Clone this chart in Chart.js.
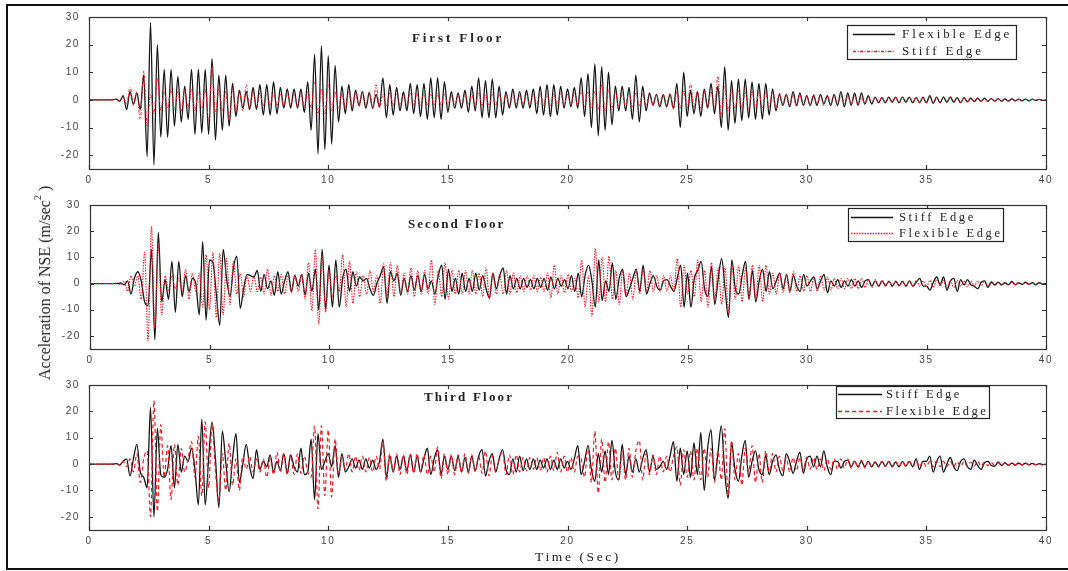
<!DOCTYPE html>
<html><head><meta charset="utf-8">
<script src="https://cdn.jsdelivr.net/npm/chart.js@4.4.1/dist/chart.umd.min.js"></script>
<style>
html,body{margin:0;padding:0;background:#fff;}
#wrap{position:relative;width:1068px;height:571px;overflow:hidden;background:#fff;}
canvas{position:absolute;left:0;}
#frame{position:absolute;left:6px;top:4px;width:1090px;height:566px;border:2px solid #111;box-sizing:border-box;}
.ttl{position:absolute;font-family:'Liberation Serif','Times New Roman',serif;font-weight:bold;font-size:13px;color:#222;white-space:nowrap;line-height:13px;}
#ylab{position:absolute;left:45px;top:283px;font-family:'Liberation Serif','Times New Roman',serif;font-size:16px;color:#222;white-space:nowrap;line-height:16px;transform:translate(-50%,-50%) rotate(-90deg);}
#ylab sup{font-size:10px;vertical-align:9px;line-height:0;}
#xlab{position:absolute;left:578px;top:557px;font-family:'Liberation Serif','Times New Roman',serif;font-size:13.5px;letter-spacing:2.6px;color:#222;white-space:nowrap;line-height:14px;transform:translate(-50%,-50%);}
</style>
</head><body>
<div id="wrap">
<canvas id="c1" width="1068" height="190" style="top:0px"></canvas>
<canvas id="c2" width="1068" height="180" style="top:190px"></canvas>
<canvas id="c3" width="1068" height="201" style="top:370px"></canvas>
<div class="ttl" style="left:412px;top:31px;letter-spacing:2.9px">First Floor</div>
<div class="ttl" style="left:408px;top:217px;letter-spacing:2px">Second Floor</div>
<div class="ttl" style="left:424px;top:390px;letter-spacing:2.2px">Third Floor</div>
<div id="ylab">Acceleration of NSE (m/sec<sup>2</sup> )</div>
<div id="xlab">Time (Sec)</div>
<div id="frame"></div>
</div>
<script>
// sampling step of the read values (seconds): 7 values per second, one line = one second
const timeStep = 1/7;
const xTicks = [0,5,10,15,20,25,30,35,40];
const yTicks = [30,20,10,0,-10,-20];

// First floor
const floor1Flexible = [
0,0,0,0,0,0,0,
0,0.3,-0.5,1.5,-3.5,3,-1.5,
2.5,-3.5,9,-20.5,28,-23.5,20,
-13.5,11,-13.5,11,-9.5,8.5,-8,
5,-7,11,-12.5,11,-12,11,
-12.5,15,-14.5,9,-11,9,-9.5,
6,-6,3.5,-3,3,-3.5,4.5,
-3.5,5.5,-5.5,5.5,-5.5,6.5,-5,
4.5,-3,4,-3,4,-3,4,
-4.5,6.5,-11,16.5,-19.5,19.5,-18,
16,-16,12.5,-8,5,-5,5.5,
-4,3.5,-2,3,-3,2.5,-3,
2,-2.5,8,-6.5,5.5,-5.5,4.5,
-4,3,-4,6,-5,5.5,-6,
6,-7,8,-6.5,8,-7,6.5,
-4.5,3,-3,2.5,-3,3.5,-4.5,
5,-4,8,-6.5,7,-6.5,7.5,
-6.5,5,-5.5,3,-3,4,-3,
3,-3,3.5,-3,4,-5,5,
-5.5,5.5,-6,5.5,-5.5,5,-3,
4,-2.5,4.5,-3,8,-6,9.5,
-10,13,-13,12,-11,10,-9,
5,-4,5,-4,4.5,-7,9,
-8,5,-4,2.5,-2,2,-2.5,
2,-2.5,2,-3,6,-10,10,
-6,3.5,-5,3,-6,4,-3,
6,-5,5,-10,12,-11,7,
-8.5,7.5,-7.5,7.5,-6.5,6.5,-7,
6,-7,6,-5.5,4,-4,2,
-2,2,-2.5,3,-2,2.5,-2,
1.5,-2,1.5,-2,2,-1.5,1.5,
-2,2,-2,3,-2.5,2.5,-2,
2.5,-2,2.5,-1.5,1.5,-1.5,1,
-1,0.8,-1,1,-0.8,1,-1,
1,-0.8,1,-1,0.8,-1,1,
-1,1.5,-1.2,1,-1,1,-0.8,
1,-0.8,0.8,-1,0.8,-0.6,0.6,
-0.6,0.6,-0.5,0.6,-0.5,0.5,-0.5,
0.5,-0.5,0.4,-0.4,0.4,-0.3,0.3,
-0.3,0.3,-0.3,0.3,-0.2,0.2,-0.2,
0];
const floor1Stiff = [
0,0,0,0,0,0,0,
0,0.3,-0.3,1,-1.5,4.5,-2,
3,-7,10.5,-9.5,2,-5,8,
-4,3,-3,4,-3.5,3,-4,
3.5,-3,4,-4,3,-3,4,
-8,12.5,-5,4,-4,3,-7.5,
4,-4,3.5,-4,5.5,-3,3,
-2.5,2.5,-2,2.5,-2,2.5,-2,
2,-2,2.5,-2,2,-2.5,2,
-2.5,3,-3,6.5,-5,4,-5,
5.5,-4,3,-3,2.5,-3,3,
-3,2.5,-2.5,3,-2,3,-3,
5.5,-3,2,-2,2.5,-2,2,
-2,2,-2,2.5,-2,2,-2,
2.5,-2,2,-2,2.5,-2,2,
-1.5,1.5,-2,1.5,-1.5,2,-1.5,
2,-2,2.5,-2,2,-2,2,
-2,2,-1.5,2,-2,1.5,-1.5,
1.5,-1.5,2,-2,2,-1.5,2,
-2,2,-2,2,-2,2.5,-2,
2,-2,2.5,-2,3.5,-2.5,3,
-3,3,-3.5,5.5,-4,3.5,-3,
3,-2.5,2.5,-2.5,3,-2.5,2.5,
-2,2,-2,2,-2,2,-2,
2,-2,2.5,-3.5,3,-3,3.5,
-3,6,-3,3,-3,3.5,-3,
3,-3,8.5,-6,5,-4,3.5,
-3,3.5,-3,3,-3.5,3,-3,
3,-3,3,-2.5,3,-3,2.5,
-2,2,-2,2,-2.5,2,-2,
1.5,-2,2,-1.5,1.5,-2,1.5,
-1.5,1.5,-1.5,1.5,-1.5,1.5,-1.5,
1.5,-1.5,1,-1.5,1,-1,1,
-1,1,-0.8,1,-1,0.8,-1,
1,-1,1,-0.8,1,-1,0.8,
-1,1.2,-1,1,-1,1.2,-1,
1.2,-1,1,-1,0.8,-1,0.8,
-0.8,0.8,-0.6,0.6,-0.6,0.5,-0.5,
0.5,-0.5,0.4,-0.4,0.4,-0.4,0.3,
-0.3,0.3,-0.3,0.2,-0.2,0.2,-0.2,
0];

// Second floor
const floor2Stiff = [
0,0,0,0,0,0,0,
0,0,0.2,-0.5,1,-4,2,
4.5,1,-7,-8.5,13,-21.5,19.5,
-7,1.5,-6,8.5,-11,8.5,-5,
3,-3,2,0,-12,16,-14,
9,8,-4,-16,13,2,-5,
6,10.5,-9.5,-2,3.5,3,2.5,
5,-3,3.5,-2,1,-4.5,4.5,
-4,1,4.5,-3,3,-1,3.5,
-4.5,4,-3,5.5,-10,13,-10,
7,-9,9,-9,2,5.5,-3,
4.5,-1,2.5,1,2,-2,-4.5,
0,3,6.5,-7.5,4.5,1,4,
-4.5,2,-3,3,-2.5,3,-3,
3.5,-2,1,-4,3,7,-6,
5.5,-3,2,-4,4,-3,2,
-3,4,-2.5,3,-2,-5.5,4,
-2,3,6,-4,3,-2,2,
-2,2,-1.5,1.5,-2,2,-1.5,
2,-2.5,2.5,-2,2,-1,1.5,
-2,3,-3,4,-5,3,7,
1,-9,9,-6.5,1,-3,8,
-6,2,5.5,-5,-2,2,5.5,
-3,7,-4,0,3,-1,-2.5,
1,1.5,-1,-3,2,7,-9,
4,-9,2,5,8.5,-2,-5,
6.5,-8,2,9.5,-2,-13,9,
-2,-4,3,8.5,-6,5,-7,
1,5.5,-3,4.5,-2,1,4,
-2,3.5,-3,3,-1,-3,3.5,
-1,1,2.5,-2,1,3.5,-3.5,
1,-1,1.5,-1.5,1,-1,1.5,
-1,1,-1.5,1,1.5,-1,1,
-1,1,-0.8,0.8,-1,0.8,-0.8,
0.8,-1,1,-1,0.5,2,-1,
-1,-2.5,0.5,2.5,-0.5,2.5,-2.5,
1,2,-3,1.5,-0.5,1.5,-0.5,
-1,-2,0.5,1,-1.5,0.5,-0.5,
0.5,-0.5,0.3,-0.5,0.8,-0.5,0.3,
-0.3,0.5,-0.3,0.3,-0.5,0.3,-0.2,
0];
const floor2Flexible = [
0,0,0,0,0,0,0,
0,0.3,-0.5,1,-3,3,-1,
3,-6,12,-22,22,-17,15,
-12,3,-2.5,3,-2,2,-3,
5.5,-6,4,-3,4,-9,11,
-10,12,-13,11.5,-12,9.5,-8,
8.5,-4,4,-5,3,-3,3,
-3,2.5,-4,5.5,-4.5,3,-3,
3.5,-4,3,-3.5,3.5,-3,3.5,
-6,8,-10.5,13,-15.5,11,-11,
5,-5,3,-3,11,-9,8.5,
-7.5,4.5,-5,3,-4,5,-3,
3,-7.5,7.5,-5,8,-5,7,
-4,4,-4,6,-5,5,-4,
5,-4,9,-8,5,-5,8,
-6,5,-4,5,-4,5,-4,
5,-4,4,-5,6,-6,4,
-4,3.5,-4,5,-4,4,-3.5,
3,-3,3,-2.5,3,-3,2.5,
-3,4,-5.5,7,-4,3,-3.5,
3.5,-3,2,-5.5,9,-9,3,
-12.5,13.5,-7,10,-7,10.5,-6,
5,-8,5,-5,4,-6,5,
-4,5.5,-3,5,-3,3,-3,
3,-3,3,-3,9.5,-9,7,
-4,5,-5,9,-7,5,-9,
8,-6,6,-8,6,-11,7,
-6,7,-7,6,-6,7,-6,
7,-7,7,-4,4,-4,4,
-3.5,3.5,-3.5,4.5,-3,3,-3,
3,-3,2.5,-3,3,-2.5,2.5,
-2.5,2,-2,2,-2,2,-2,
2,-2,2,-1.5,1.5,-1.5,1.5,
-1.2,1.2,-1.2,1,-1.2,1,-1,
1,-1.2,1,-1,1.2,-1,1,
-1.2,1.2,-1.5,1.5,-1,1.2,-1.5,
1.2,-1.5,1.2,-1,1,-1.2,1,
-1,1,-0.8,1,-0.8,0.8,-0.6,
0.5,-0.6,0.5,-0.5,0.4,-0.4,0.4,
-0.3,0.3,-0.3,0.3,-0.2,0.2,-0.2,
0];

// Third floor
const floor3Stiff = [
0,0,0,0,0,0,0,
0,0.2,-0.3,1,2,-4.5,2,
7.5,-3,-5,-9,21.5,-20,13.5,
-4,-5,-2,7,-9,7.5,-3,
3,1,6,-2,-15.5,17,-15.5,
2,16,2,-16.5,12.5,1,-10.5,
2,11.5,-7,0,7.5,-1,-5.5,
5.5,-2,1,-1,3.5,-3,1,
-2.5,4,-3.5,3.5,-1,-3,6,
-4,-3,9.5,-13.5,11.5,-2,1,
4,-1,7,-5,4,-3,-1,
2,-1.5,1.5,-2,2,-1.5,1.5,
-2,1,9.5,-5,3,-3,3,
-2,3,-2.5,3.5,-3,3,-3,
2,6,-4,2,5.5,-4,3,
-2,3,-2.5,3,-3,2.5,-3,
3,-2.5,3,5.5,-4.5,1,4,
-3,2,5.5,-2,-4,2,-3,
3,-2.5,2,-2,2,-2,1.5,
-1.5,2,-2,1.5,-2,2,-1.5,
1,-2,2,7,-4,1,7,
-2,-6.5,4,-3,5,-4,9,
-3,-6,7.5,-4,3,-3,2,
-3,2,5.5,-3,3,-2,-1,
1,-2,3,8.5,-6.5,6,-4,
5,-5,8,-4,12,-10,6,
13,-6,4,14.5,-3,-13,8,
-2,-6.5,3,9,-5,1,5,
-2,-4,3.5,-4,1,3.5,-2,
-4.5,4,1,-3.5,1,4.5,-3.5,
2,3,-1,3,-1,5,-1,
-4,1,1,-1.5,1,1.5,-1,
1,-1,1,-1,1,-1,0.8,
-1,1,-0.8,1,-1,0.8,-1,
1,-0.8,1,-1,2,-2,1,
1,3,-3,1,3,-3,0,
2.5,-1,-2.5,1,2,-1,-2,
1.5,-0.5,-2,0.5,1,-0.5,-0.8,
0.8,-0.5,0.5,-0.5,0.4,-0.4,0.4,
-0.4,0.4,-0.3,0.3,-0.3,0.2,-0.2,
0];
const floor3Flexible = [
0,0,0,0,0,0,0,
0,0.3,-0.5,1,-1,2,-3,
4,-7,2,5,-20,24,-18,
15,-5,7,-13.5,7.5,-8,6,
-3,2,8.5,-5,10.5,-12,16,
-9,15,-3,-14,4,-10,8,
-8,2,-10,3,-2,3,-3,
2,-3,2,-5,2,-4,4.5,
-3,4,-4,3.5,-4,4,-3.5,
3,-3,-5,14.5,-17,14.5,-12,
13,-12.5,9.5,-4,3,-2,4,
-3,3,-2.5,3,-3,2.5,-3,
3,-2,8.5,-6.5,4,-3,4,
-4,3.5,-4,4,-3.5,4,-3,
3.5,-4,3,-3,6.5,-5.5,4,
-4,3.5,-4,3.5,-3,4,-3.5,
3.5,-3,3,-3.5,5,-4.5,3,
-3,2,5,-4,3.5,-4,3.5,
-3,2.5,-2.5,2.5,-2,2.5,-2.5,
2.5,-3,3,-2.5,4.5,-3,3,
-3,2.5,-3,3,2,-5,7,
-7,12.5,-11,9.5,-7,8.5,-6,
6,-6,5,-6,6,-5,5,
9,-6,4,-4,3.5,-4,3,
-3,3,-3,3,6.5,-8,5.5,
-5,5,-6,6,-6,6,-5,
6,-7,5,-6,13.5,-12,9,
-6,4,-8,6,-3,7,-7,
4,-7,5,-3,4,-3,3,
-2.5,2.5,-3,2.5,-2.5,2.5,-2,
2.5,-2,2.5,-2,2,-2.5,2,
-2,2,-2,2,-1.5,2,-1.5,
1.5,-1.5,1.5,-1.5,1.2,-1.2,1,
-1,1,-1,1,-0.8,1,-1,
1,-1,1.5,-1.2,1,-1,1,
-1,1,-1,1,-1,1,-1,
1,-1,1,-1,1,-0.8,0.8,
-0.8,1,-0.8,0.8,-0.6,0.6,-0.6,
0.5,-0.5,0.5,-0.4,0.4,-0.4,0.3,
-0.3,0.3,-0.3,0.2,-0.2,0.2,-0.2,
0];

const BLACK = '#151515';
const RED = '#ec1c24';
const DASH1 = [3,1.5,1,1.5];
const DASH2 = [1.5,1.2];
const DASH3 = [4,3];
const toPoints = arr => arr.map((v,i) => ({x: i*timeStep, y: v}));

const framePlugin = {
  id: 'frameTicks',
  beforeDraw(chart){ chart.ctx.letterSpacing = '1.6px'; },
  afterDraw(chart){
    const ctx = chart.ctx, a = chart.chartArea, xs = chart.scales.x, ys = chart.scales.y;
    ctx.save();
    ctx.letterSpacing = '0px';
    ctx.strokeStyle = '#333'; ctx.lineWidth = 1.2; ctx.setLineDash([]);
    ctx.strokeRect(a.left+0.5, a.top+0.5, a.right-a.left, a.bottom-a.top);
    const tl = 4;
    ctx.beginPath();
    xs.ticks.forEach(t => {
      const px = Math.round(xs.getPixelForValue(t.value))+0.5;
      ctx.moveTo(px, a.top); ctx.lineTo(px, a.top+tl);
      ctx.moveTo(px, a.bottom); ctx.lineTo(px, a.bottom-tl);
    });
    ys.ticks.forEach(t => {
      const py = Math.round(ys.getPixelForValue(t.value))+0.5;
      ctx.moveTo(a.left, py); ctx.lineTo(a.left+tl, py);
      ctx.moveTo(a.right, py); ctx.lineTo(a.right-tl, py);
    });
    ctx.stroke();
    ctx.restore();
    // legend inside plot
    const L = chart.$innerLegend;
    if (L) {
      ctx.save();
      ctx.letterSpacing = '0px';
      ctx.fillStyle = '#fff';
      ctx.fillRect(L.x, L.y, L.w, L.h);
      ctx.strokeStyle = '#222'; ctx.lineWidth = 1.2; ctx.setLineDash([]);
      ctx.strokeRect(L.x+0.5, L.y+0.5, L.w, L.h);
      L.items.forEach((it, k) => {
        const yy = L.rows[k];
        ctx.save();
        ctx.beginPath();
        ctx.strokeStyle = it.color;
        ctx.lineWidth = it.width;
        ctx.setLineDash(it.dash);
        ctx.moveTo(L.lx1, yy+0.5); ctx.lineTo(L.lx2, yy+0.5);
        ctx.stroke();
        ctx.restore();
        ctx.save();
        ctx.letterSpacing = L.ls + 'px';
        ctx.font = L.size + "px 'Liberation Serif', 'Times New Roman', serif";
        ctx.fillStyle = '#222'; ctx.textBaseline = 'middle'; ctx.textAlign = 'left';
        ctx.fillText(it.label, L.tx, yy+1);
        ctx.restore();
      });
      ctx.restore();
    }
  }
};

function makeChart(id, datasets, padTop, xAxisH, yAxisW, legend){
  const ch = new Chart(document.getElementById(id), {
    type: 'line',
    data: { datasets },
    options: {
      responsive: false, animation: false, devicePixelRatio: 1,
      layout: { padding: { top: padTop, left: 0, right: 22, bottom: 0 } },
      elements: { point: { radius: 0 }, line: { cubicInterpolationMode: 'monotone', borderJoinStyle: 'round' } },
      plugins: { legend: { display: false }, tooltip: { enabled: false } },
      scales: {
        x: {
          type: 'linear', min: 0, max: 40,
          afterBuildTicks: s => { s.ticks = xTicks.map(v => ({ value: v })); },
          afterFit: s => { s.height = xAxisH; },
          grid: { display: false, drawTicks: false }, border: { display: false },
          ticks: { padding: 5, color: '#444', maxRotation: 0, autoSkip: false,
                   font: { family: "'Liberation Sans', Arial, sans-serif", size: 10 } }
        },
        y: {
          type: 'linear', min: -25, max: 30,
          afterBuildTicks: s => { s.ticks = yTicks.map(v => ({ value: v })); },
          afterFit: s => { s.width = yAxisW; },
          grid: { display: false, drawTicks: false }, border: { display: false },
          ticks: { padding: 9, color: '#444',
                   font: { family: "'Liberation Sans', Arial, sans-serif", size: 10 } }
        }
      }
    },
    plugins: [framePlugin]
  });
  legend.items = legend.order.map(i => ({
    label: datasets[i].label, color: datasets[i].borderColor,
    width: Math.max(1.5, datasets[i].borderWidth), dash: datasets[i].borderDash || []
  }));
  ch.$innerLegend = legend;
  ch.draw();
  return ch;
}

makeChart('c1', [
  { label: 'Flexible Edge', data: toPoints(floor1Flexible), borderColor: BLACK, borderWidth: 1.3, order: 1 },
  { label: 'Stiff Edge', data: toPoints(floor1Stiff), borderColor: RED, borderWidth: 1, borderDash: DASH1, order: 0 }
], 17, 21, 89, { x: 847, y: 25, w: 169, h: 34, rows: [34, 51], lx1: 853, lx2: 895, tx: 902, size: 13, ls: 2.9, order: [0,1] });

makeChart('c2', [
  { label: 'Stiff Edge', data: toPoints(floor2Stiff), borderColor: BLACK, borderWidth: 1.3, order: 1 },
  { label: 'Flexible Edge', data: toPoints(floor2Flexible), borderColor: RED, borderWidth: 1.1, borderDash: DASH2, order: 0 }
], 7, 21, 90, { x: 848, y: 18, w: 155, h: 33, rows: [27, 43], lx1: 851, lx2: 893, tx: 899, size: 12.5, ls: 2.6, order: [0,1] });

makeChart('c3', [
  { label: 'Stiff Edge', data: toPoints(floor3Stiff), borderColor: BLACK, borderWidth: 1.3, order: 1 },
  { label: 'Flexible Edge', data: toPoints(floor3Flexible), borderColor: RED, borderWidth: 1.2, borderDash: DASH3, order: 0 }
], 8, 41, 89, { x: 836, y: 16, w: 153, h: 32, rows: [24, 41], lx1: 838, lx2: 882, tx: 886, size: 12.5, ls: 2.5, order: [0,1] });
</script>
</body></html>
